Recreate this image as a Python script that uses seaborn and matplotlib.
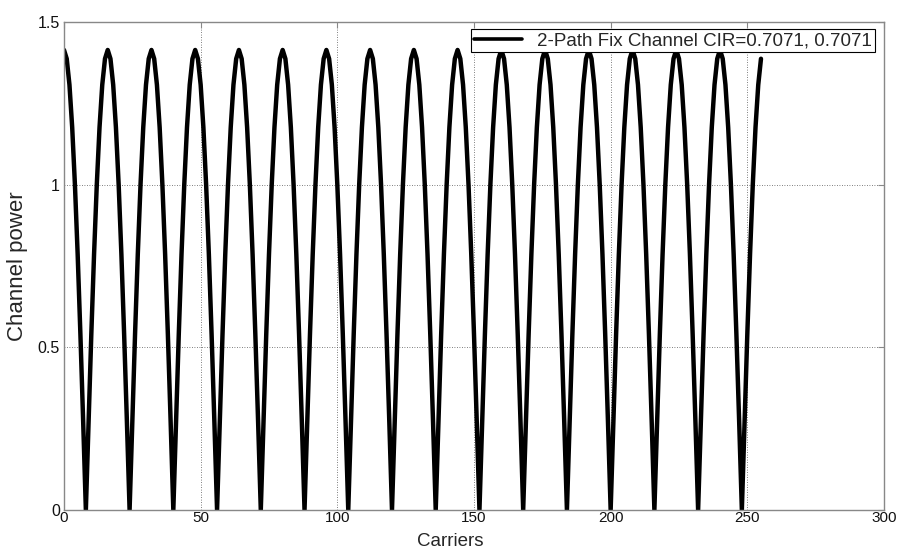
import matplotlib
matplotlib.use("Agg")
import matplotlib.pyplot as plt
import seaborn as sns
import pandas as pd

carriers = list(range(256))
channel_power = [
    1.414, 1.387, 1.307, 1.176, 1.000, 0.786, 0.541, 0.276, 0.000, 0.276, 0.541, 0.786, 1.000, 1.176, 1.307, 1.387,
    1.414, 1.387, 1.307, 1.176, 1.000, 0.786, 0.541, 0.276, 0.000, 0.276, 0.541, 0.786, 1.000, 1.176, 1.307, 1.387,
    1.414, 1.387, 1.307, 1.176, 1.000, 0.786, 0.541, 0.276, 0.000, 0.276, 0.541, 0.786, 1.000, 1.176, 1.307, 1.387,
    1.414, 1.387, 1.307, 1.176, 1.000, 0.786, 0.541, 0.276, 0.000, 0.276, 0.541, 0.786, 1.000, 1.176, 1.307, 1.387,
    1.414, 1.387, 1.307, 1.176, 1.000, 0.786, 0.541, 0.276, 0.000, 0.276, 0.541, 0.786, 1.000, 1.176, 1.307, 1.387,
    1.414, 1.387, 1.307, 1.176, 1.000, 0.786, 0.541, 0.276, 0.000, 0.276, 0.541, 0.786, 1.000, 1.176, 1.307, 1.387,
    1.414, 1.387, 1.307, 1.176, 1.000, 0.786, 0.541, 0.276, 0.000, 0.276, 0.541, 0.786, 1.000, 1.176, 1.307, 1.387,
    1.414, 1.387, 1.307, 1.176, 1.000, 0.786, 0.541, 0.276, 0.000, 0.276, 0.541, 0.786, 1.000, 1.176, 1.307, 1.387,
    1.414, 1.387, 1.307, 1.176, 1.000, 0.786, 0.541, 0.276, 0.000, 0.276, 0.541, 0.786, 1.000, 1.176, 1.307, 1.387,
    1.414, 1.387, 1.307, 1.176, 1.000, 0.786, 0.541, 0.276, 0.000, 0.276, 0.541, 0.786, 1.000, 1.176, 1.307, 1.387,
    1.414, 1.387, 1.307, 1.176, 1.000, 0.786, 0.541, 0.276, 0.000, 0.276, 0.541, 0.786, 1.000, 1.176, 1.307, 1.387,
    1.414, 1.387, 1.307, 1.176, 1.000, 0.786, 0.541, 0.276, 0.000, 0.276, 0.541, 0.786, 1.000, 1.176, 1.307, 1.387,
    1.414, 1.387, 1.307, 1.176, 1.000, 0.786, 0.541, 0.276, 0.000, 0.276, 0.541, 0.786, 1.000, 1.176, 1.307, 1.387,
    1.414, 1.387, 1.307, 1.176, 1.000, 0.786, 0.541, 0.276, 0.000, 0.276, 0.541, 0.786, 1.000, 1.176, 1.307, 1.387,
    1.414, 1.387, 1.307, 1.176, 1.000, 0.786, 0.541, 0.276, 0.000, 0.276, 0.541, 0.786, 1.000, 1.176, 1.307, 1.387,
    1.414, 1.387, 1.307, 1.176, 1.000, 0.786, 0.541, 0.276, 0.000, 0.276, 0.541, 0.786, 1.000, 1.176, 1.307, 1.387,
]
series_label = "2-Path Fix Channel CIR=0.7071, 0.7071"
x_ticks = [0, 50, 100, 150, 200, 250, 300]
y_ticks = [0, 0.5, 1, 1.5]
y_tick_labels = ["0", "0.5", "1", "1.5"]

sns.set_style("white")
plt.rcParams['font.family'] = ['Liberation Sans', 'DejaVu Sans']

df = pd.DataFrame({"Carriers": carriers, "Channel power": channel_power})

fig = plt.figure(figsize=(9, 5.51), dpi=100)
ax = fig.add_axes([0.0711, 0.0744, 0.9111, 0.8857])

sns.lineplot(data=df, x="Carriers", y="Channel power", ax=ax, color="black",
             linewidth=3.2, label=series_label)

ax.set_xlim(0, 300)
ax.set_ylim(0, 1.5)
ax.set_xticks(x_ticks)
ax.set_xticklabels([str(t) for t in x_ticks])
ax.set_yticks(y_ticks)
ax.set_yticklabels(y_tick_labels)
ax.grid(True, color="#555555", linestyle=(0, (1, 2)), linewidth=0.6)
for s in ax.spines.values():
    s.set_color("#888888")
    s.set_linewidth(1.0)
ax.tick_params(axis="both", direction="in", length=4, width=0.8, color="#888888",
               labelsize=11.5, labelcolor="#111111", pad=3)
ax.tick_params(axis="x", labelsize=11, pad=1)
ax.tick_params(top=True, right=True)
ax.set_xlabel("Carriers", fontsize=13.5, va="bottom")
ax.xaxis.set_label_coords(0.5, 1.5 / 551, transform=fig.transFigure)
ax.set_ylabel("Channel power", fontsize=16, labelpad=7)

leg = ax.legend(loc="upper right", bbox_to_anchor=(0.989, 0.985), fontsize=13.5, frameon=True,
                fancybox=False, framealpha=1.0, borderpad=0.15, handlelength=2.6,
                handletextpad=0.8, borderaxespad=0.0)
leg.get_frame().set_edgecolor("black")
leg.get_frame().set_linewidth(0.8)
for line in leg.get_lines():
    line.set_linewidth(2.6)

fig.savefig("out.png", dpi=100)
